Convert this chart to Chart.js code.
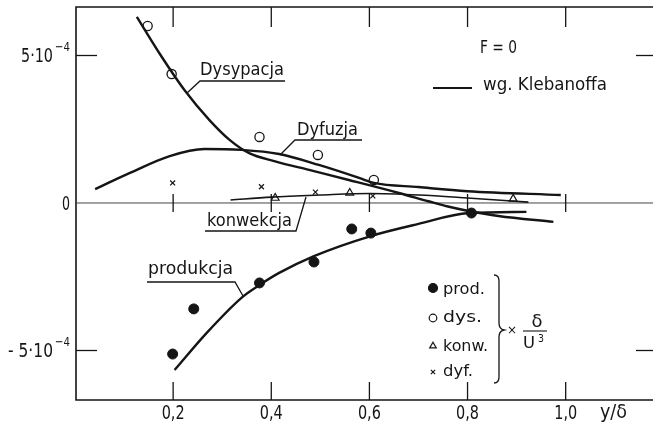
<!DOCTYPE html>
<html>
<head>
<meta charset="utf-8">
<script src="https://cdn.jsdelivr.net/npm/chart.js@4/dist/chart.umd.min.js"></script>
<style>
  html, body { margin: 0; padding: 0; background: #fff; overflow: hidden; }
  canvas { display: block; }
</style>
</head>
<body>
<canvas id="c" width="660" height="423"></canvas>
<script>
// Bilans energii turbulencji, F = 0. Wartości w jednostkach 10^-4 (× δ/U³).

// Krzywe wg Klebanoffa
const dysCurveX  = [0.126, 0.173, 0.223, 0.274, 0.315, 0.355, 0.406, 0.477, 0.558, 0.660, 0.720, 0.760, 0.802, 0.863, 0.975];
const dysCurveY  = [6.31, 5.05, 3.83, 2.81, 2.14, 1.69, 1.42, 1.12, 0.78, 0.34, 0.06, -0.12, -0.27, -0.44, -0.64];
const dyfCurveX  = [0.041, 0.112, 0.193, 0.264, 0.339, 0.416, 0.497, 0.579, 0.609, 0.70, 0.80, 0.99];
const dyfCurveY  = [0.47, 1.02, 1.59, 1.83, 1.80, 1.66, 1.29, 0.85, 0.68, 0.54, 0.40, 0.27];
const konwCurveX = [0.317, 0.40, 0.50, 0.60, 0.70, 0.80, 0.924];
const konwCurveY = [0.10, 0.20, 0.27, 0.32, 0.27, 0.17, 0.03];
const prodCurveX = [0.203, 0.268, 0.341, 0.376, 0.416, 0.487, 0.603, 0.70, 0.802, 0.92];
const prodCurveY = [-5.66, -4.41, -3.19, -2.78, -2.37, -1.80, -1.12, -0.71, -0.34, -0.30];

// Punkty pomiarowe
const prodX = [0.199, 0.242, 0.376, 0.487, 0.564, 0.603, 0.808];
const prodY = [-5.12, -3.59, -2.71, -2.00, -0.88, -1.02, -0.34];
const dysX  = [0.148, 0.197, 0.376, 0.495, 0.609];
const dysY  = [6.00, 4.37, 2.24, 1.63, 0.78];
const konwX = [0.408, 0.560, 0.893];
const konwY = [0.17, 0.34, 0.14];
const dyfX  = [0.199, 0.380, 0.490, 0.607];
const dyfY  = [0.68, 0.55, 0.37, 0.24];

// Podziałki osi
const xTicks = [0.2, 0.4, 0.6, 0.8, 1.0];
const xTickLabels = ['0,2', '0,4', '0,6', '0,8', '1,0'];
const yTicks = [5, 0, -5];
const yTickLabels = [['5·10', '−4'], ['0', ''], ['- 5·10', '−4']];

const INK = '#151515';
const FONT = '"DejaVu Sans", sans-serif';

const pts = (xs, ys) => xs.map((x, i) => ({ x, y: ys[i] }));

function curve(xs, ys, width) {
  return {
    data: pts(xs, ys), showLine: true, borderColor: INK, borderWidth: width,
    pointRadius: 0, cubicInterpolationMode: 'monotone', fill: false
  };
}
function marks(xs, ys, style, radius, bg, bw) {
  return {
    data: pts(xs, ys), showLine: false, pointStyle: style, pointRadius: radius,
    pointBackgroundColor: bg, pointBorderColor: INK, pointBorderWidth: bw
  };
}

// tekst dopasowany do zadanej szerokości
function txt(ctx, s, x, y, size, w, align) {
  ctx.save();
  ctx.font = size + 'px ' + FONT;
  const m = ctx.measureText(s).width;
  const sx = w ? w / m : 1;
  ctx.translate(x, y);
  ctx.scale(sx, 1);
  ctx.textAlign = align || 'left';
  ctx.textBaseline = 'alphabetic';
  ctx.fillStyle = INK;
  ctx.fillText(s, 0, 0);
  ctx.restore();
}
function seg(ctx, pts, w, color) {
  ctx.save();
  ctx.strokeStyle = color || INK;
  ctx.lineWidth = w || 1.3;
  ctx.beginPath();
  ctx.moveTo(pts[0][0], pts[0][1]);
  for (let i = 1; i < pts.length; i++) ctx.lineTo(pts[i][0], pts[i][1]);
  ctx.stroke();
  ctx.restore();
}

const frame = {
  id: 'frame',
  beforeDatasetsDraw(chart) {
    const { ctx, chartArea: a, scales: { x, y } } = chart;
    const x0 = x.getPixelForValue(0) + 1;
    const yz = y.getPixelForValue(0);
    // ramka
    seg(ctx, [[a.right, a.top], [x0, a.top], [x0, a.bottom], [a.right, a.bottom]], 1.6);
    // linia zera
    seg(ctx, [[x0, yz], [a.right, yz]], 1, '#444');
    // podziałki x: górna, dolna i na linii zera
    xTicks.forEach(v => {
      const px = x.getPixelForValue(v);
      seg(ctx, [[px, a.top], [px, a.top + 20]], 1.3);
      seg(ctx, [[px, a.bottom], [px, a.bottom - 18]], 1.3);
      seg(ctx, [[px, yz - 9], [px, yz + 9]], 1.3);
    });
    // podziałki y: lewa i prawa
    yTicks.forEach(v => {
      if (v === 0) return;
      const py = y.getPixelForValue(v);
      seg(ctx, [[x0, py], [x0 + 21, py]], 1.3);
      seg(ctx, [[a.right, py], [a.right - 18, py]], 1.3);
    });
  },
  afterDraw(chart) {
    const { ctx, scales: { x, y } } = chart;
    // opisy osi
    xTicks.forEach((v, i) => txt(ctx, xTickLabels[i], x.getPixelForValue(v), 419, 20, 23, 'center'));
    txt(ctx, 'y/δ', 600, 418, 19, 27);
    yTicks.forEach((v, i) => {
      const py = y.getPixelForValue(v);
      const [main, sup] = yTickLabels[i];
      if (!sup) { txt(ctx, main, 70, py + 7, 19, 8, 'right'); return; }
      txt(ctx, main, 53, py + 7, 19, main.length > 4 ? 45 : 32, 'right');
      txt(ctx, sup, 55, py - 4, 13, 15);
    });

    // nazwy krzywych z odnośnikami
    txt(ctx, 'Dysypacja', 200, 75, 18, 84);
    seg(ctx, [[285, 81], [200, 81], [187, 93]]);
    txt(ctx, 'Dyfuzja', 297, 135, 18, 61);
    seg(ctx, [[362, 140], [295, 140], [280, 155]]);
    txt(ctx, 'konwekcja', 207, 226, 17, 85);
    seg(ctx, [[205, 231], [296, 231], [306, 197]]);
    txt(ctx, 'produkcja', 148, 274, 17, 85);
    seg(ctx, [[147, 282], [235, 282], [243, 296]]);

    // opis w prawym górnym rogu
    txt(ctx, 'F = 0', 480, 53, 18, 37);
    seg(ctx, [[433, 88], [472, 88]], 1.8);
    txt(ctx, 'wg. Klebanoffa', 483, 90, 17, 124);

    // legenda punktów
    const dp = Chart.helpers.drawPoint;
    ctx.save();
    ctx.strokeStyle = INK; ctx.lineWidth = 1.2;
    ctx.fillStyle = INK;   dp(ctx, { pointStyle: 'circle', radius: 4.5, borderWidth: 1 }, 433, 288);
    ctx.fillStyle = '#fff'; dp(ctx, { pointStyle: 'circle', radius: 3.8, borderWidth: 1.1 }, 433, 318);
    dp(ctx, { pointStyle: 'triangle', radius: 3.8, borderWidth: 1.1 }, 433, 346);
    dp(ctx, { pointStyle: 'crossRot', radius: 3, borderWidth: 1.1 }, 433, 372);
    ctx.restore();
    txt(ctx, 'prod.', 443, 294, 16, 42);
    txt(ctx, 'dys.', 443, 322, 16, 39);
    txt(ctx, 'konw.', 443, 351, 16, 45);
    txt(ctx, 'dyf.', 443, 376, 16, 30);

    // nawias klamrowy i mnożnik δ/U³
    ctx.save();
    ctx.strokeStyle = INK; ctx.lineWidth = 1.3;
    ctx.beginPath();
    ctx.moveTo(494, 275);
    ctx.quadraticCurveTo(499, 275, 499, 281);
    ctx.lineTo(499, 323);
    ctx.quadraticCurveTo(499, 329, 504, 330);
    ctx.quadraticCurveTo(499, 331, 499, 337);
    ctx.lineTo(499, 377);
    ctx.quadraticCurveTo(499, 383, 494, 383);
    ctx.stroke();
    ctx.restore();
    txt(ctx, '×', 512, 334, 12, 0, 'center');
    txt(ctx, 'δ', 537, 327, 17, 11, 'center');
    seg(ctx, [[523, 331], [547, 331]], 1.1);
    txt(ctx, 'U', 523, 348, 16, 12);
    txt(ctx, '3', 538, 342, 10, 6);
  }
};

new Chart(document.getElementById('c'), {
  type: 'line',
  data: {
    datasets: [
      curve(dysCurveX, dysCurveY, 2.4),
      curve(dyfCurveX, dyfCurveY, 2.4),
      curve(konwCurveX, konwCurveY, 1.6),
      curve(prodCurveX, prodCurveY, 2.4),
      marks(prodX, prodY, 'circle', 5, INK, 1),
      marks(dysX, dysY, 'circle', 4.6, '#fff', 1.3),
      marks(konwX, konwY, 'triangle', 4.5, '#fff', 1.2),
      marks(dyfX, dyfY, 'crossRot', 3.5, INK, 1.2)
    ]
  },
  options: {
    responsive: false,
    animation: false,
    devicePixelRatio: 1,
    layout: { padding: { left: 75, right: 4, top: 7, bottom: 23 } },
    plugins: { legend: { display: false }, tooltip: { enabled: false } },
    scales: {
      x: { type: 'linear', min: 0, max: 1.18, display: false },
      y: { type: 'linear', min: -6.678, max: 6.644, display: false }
    }
  },
  plugins: [frame]
});
</script>
</body>
</html>
